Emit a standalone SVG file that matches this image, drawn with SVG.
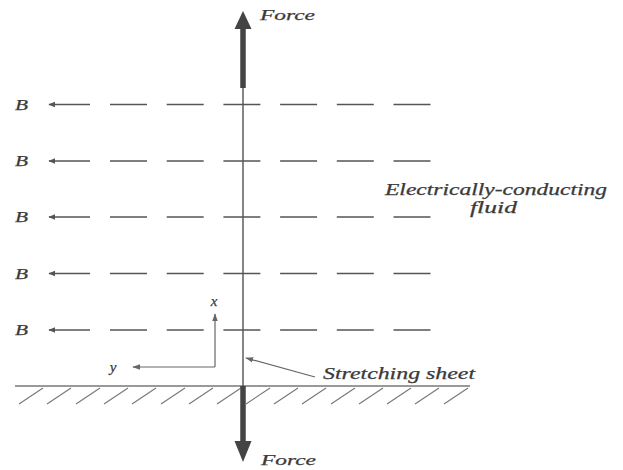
<svg xmlns="http://www.w3.org/2000/svg" width="623" height="470" viewBox="0 0 623 470">
  <style>
    .lbl { font-family: "Liberation Serif", "Times New Roman", serif; font-style: italic; fill: #3a3a3a; stroke: #3a3a3a; stroke-width: 0.25; }
    .field { stroke: #555; stroke-width: 1.6; fill: none; }
    .dash { stroke: #555; stroke-width: 1.6; stroke-dasharray: 37 19.7; fill: none; }
    .thin { stroke: #666; stroke-width: 1.2; fill: none; }
    .hatch { stroke: #777; stroke-width: 1.1; }
    .force { stroke: #444; stroke-width: 5.5; fill: none; }
  </style>
  <defs>
    <marker id="ah" viewBox="0 0 10 10" refX="9" refY="5" markerWidth="7" markerHeight="7" markerUnits="userSpaceOnUse" orient="auto">
      <path d="M0,1 L10,5 L0,9 Z" fill="#555"/>
    </marker>
    <marker id="ahs" viewBox="0 0 10 10" refX="9" refY="5" markerWidth="8" markerHeight="8" markerUnits="userSpaceOnUse" orient="auto">
      <path d="M0,1.5 L10,5 L0,8.5 Z" fill="#666"/>
    </marker>
    <g id="fieldline">
      <line class="field" x1="90" y1="0" x2="49" y2="0" marker-end="url(#ah)"/>
      <line class="dash" x1="110" y1="0" x2="433" y2="0"/>
    </g>
  </defs>

  <!-- ground -->
  <g id="ground">
    <line x1="15" y1="386" x2="470" y2="386" stroke="#777" stroke-width="1.6"/>
    <g class="hatch">
      <line x1="43" y1="388" x2="19" y2="404"/>
      <line x1="71" y1="388" x2="47" y2="404"/>
      <line x1="100" y1="388" x2="76" y2="404"/>
      <line x1="128" y1="388" x2="104" y2="404"/>
      <line x1="156" y1="388" x2="132" y2="404"/>
      <line x1="185" y1="388" x2="161" y2="404"/>
      <line x1="213" y1="388" x2="189" y2="404"/>
      <line x1="241" y1="388" x2="217" y2="404"/>
      <line x1="270" y1="388" x2="246" y2="404"/>
      <line x1="298" y1="388" x2="274" y2="404"/>
      <line x1="326" y1="388" x2="302" y2="404"/>
      <line x1="355" y1="388" x2="331" y2="404"/>
      <line x1="383" y1="388" x2="359" y2="404"/>
      <line x1="411" y1="388" x2="387" y2="404"/>
      <line x1="439" y1="388" x2="415" y2="404"/>
      <line x1="468" y1="388" x2="444" y2="404"/>
    </g>
  </g>

  <!-- stretching sheet -->
  <g id="sheet">
    <line x1="243" y1="14" x2="243" y2="386" stroke="#444" stroke-width="1.3"/>
  </g>

  <!-- magnetic field lines -->
  <g id="field">
    <use href="#fieldline" transform="translate(0,104.5)"/>
    <use href="#fieldline" transform="translate(0,161)"/>
    <use href="#fieldline" transform="translate(0,217)"/>
    <use href="#fieldline" transform="translate(0,273.5)"/>
    <use href="#fieldline" transform="translate(0,330)"/>
    <text class="lbl" x="15" y="109.5" font-size="14" textLength="13" lengthAdjust="spacingAndGlyphs">B</text>
    <text class="lbl" x="15" y="166" font-size="14" textLength="13" lengthAdjust="spacingAndGlyphs">B</text>
    <text class="lbl" x="15" y="222" font-size="14" textLength="13" lengthAdjust="spacingAndGlyphs">B</text>
    <text class="lbl" x="15" y="278.5" font-size="14" textLength="13" lengthAdjust="spacingAndGlyphs">B</text>
    <text class="lbl" x="15" y="335" font-size="14" textLength="13" lengthAdjust="spacingAndGlyphs">B</text>
  </g>

  <!-- forces -->
  <g id="force-up">
    <line class="force" x1="243" y1="88" x2="243" y2="26"/>
    <path d="M234.5,29 L243,11 L251.5,29 Z" fill="#444"/>
    <text class="lbl" x="260" y="20" font-size="15" textLength="55" lengthAdjust="spacingAndGlyphs">Force</text>
  </g>
  <g id="force-down">
    <line class="force" x1="243" y1="386" x2="243" y2="444"/>
    <path d="M234.5,441 L243,462 L251.5,441 Z" fill="#444"/>
    <text class="lbl" x="261" y="465" font-size="15" textLength="55" lengthAdjust="spacingAndGlyphs">Force</text>
  </g>

  <!-- axes -->
  <g id="axes">
    <line class="thin" x1="215" y1="367" x2="215" y2="314" marker-end="url(#ahs)"/>
    <line class="thin" x1="215" y1="367" x2="133" y2="367" marker-end="url(#ahs)"/>
    <text class="lbl" x="214" y="306" font-size="15" text-anchor="middle">x</text>
    <text class="lbl" x="113" y="372" font-size="15" text-anchor="middle">y</text>
  </g>

  <!-- labels -->
  <g id="fluid-label">
    <text class="lbl" x="385" y="195" font-size="16" textLength="222" lengthAdjust="spacingAndGlyphs">Electrically-conducting</text>
    <text class="lbl" x="470" y="213" font-size="16" textLength="47" lengthAdjust="spacingAndGlyphs">fluid</text>
  </g>
  <g id="sheet-label">
    <line class="thin" x1="315" y1="377" x2="246" y2="358" marker-end="url(#ahs)"/>
    <text class="lbl" x="323" y="379" font-size="16" textLength="152" lengthAdjust="spacingAndGlyphs">Stretching sheet</text>
  </g>
</svg>
